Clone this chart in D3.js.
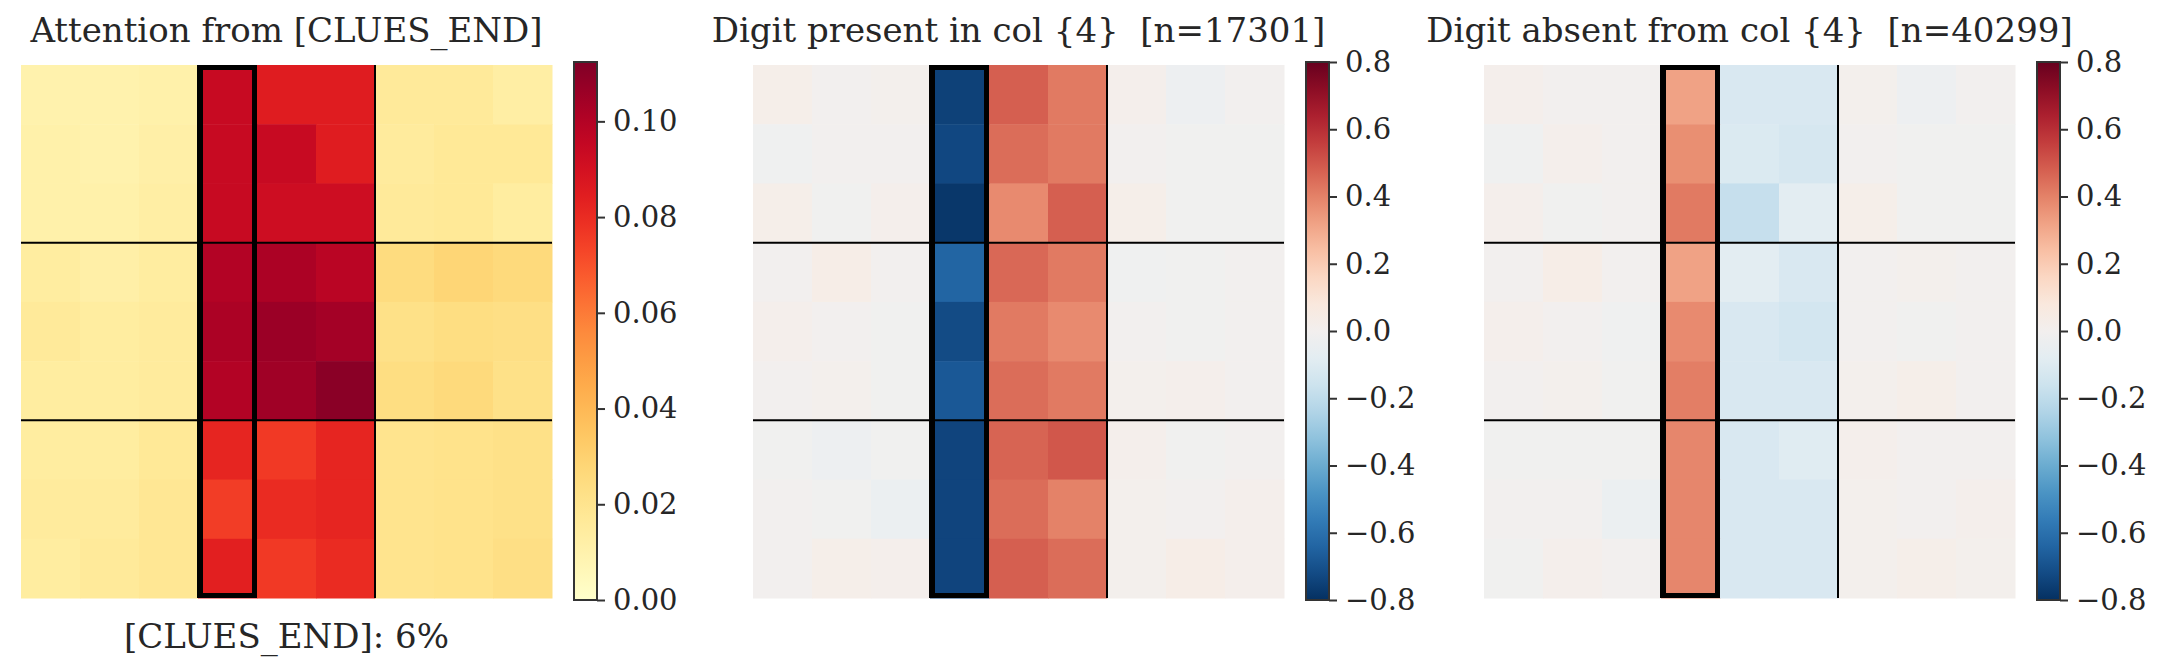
<!DOCTYPE html><html><head><meta charset="utf-8">
<script src="https://cdn.jsdelivr.net/npm/d3@7"></script>
<style>body{margin:0;background:#fff}text{font-family:"DejaVu Serif",serif;fill:#262626;white-space:pre}</style></head>
<body><svg id="c" width="2174" height="670"></svg>
<script>
const titles = ["Attention from [CLUES_END]", "Digit present in col {4}  [n=17301]", "Digit absent from col {4}  [n=40299]"];
const xlabels = ["[CLUES_END]: 6%", "", ""];
const attn = [
[.010,.010,.011,.094,.085,.085,.016,.016,.013],
[.011,.010,.012,.094,.094,.085,.015,.017,.017],
[.011,.011,.013,.094,.092,.092,.016,.017,.014],
[.014,.012,.014,.100,.102,.098,.025,.028,.026],
[.016,.014,.015,.102,.106,.104,.022,.024,.023],
[.014,.014,.015,.100,.105,.110,.024,.026,.022],
[.014,.014,.017,.082,.076,.082,.020,.021,.022],
[.015,.015,.018,.075,.080,.082,.020,.021,.022],
[.014,.016,.018,.084,.076,.080,.020,.021,.023]];
const present = [
[.03,0,.01,-.75,.48,.42,.02,-.03,0],
[-.02,0,0,-.73,.45,.42,0,-.01,-.01],
[.03,-.01,.02,-.78,.38,.48,.03,-.01,-.01],
[0,.04,0,-.64,.46,.42,-.02,-.01,0],
[.02,0,-.01,-.72,.42,.38,0,-.01,0],
[0,.01,-.01,-.68,.45,.42,.01,.02,0],
[-.01,-.03,-.01,-.74,.47,.50,.02,-.01,0],
[0,-.01,-.04,-.74,.45,.40,.01,0,.02],
[0,.03,.02,-.74,.48,.45,.01,.04,.02]];
const absent = [
[.02,0,0,.32,-.12,-.12,.01,-.03,0],
[-.02,.02,0,.37,-.11,-.13,0,-.01,-.01],
[.02,-.01,0,.42,-.18,-.08,.03,-.01,-.01],
[0,.04,0,.32,-.08,-.12,0,.01,0],
[.02,0,-.02,.38,-.12,-.14,0,-.01,0],
[0,.01,-.01,.41,-.12,-.12,.01,.03,0],
[-.01,-.01,-.01,.39,-.12,-.09,.02,0,0],
[0,0,-.04,.39,-.12,-.12,.01,0,.02],
[-.01,.02,0,.39,-.12,-.12,.01,.03,.01]];
const attnTicks = [0,0.02,0.04,0.06,0.08,0.10];
const divTicks = [-0.8,-0.6,-0.4,-0.2,0,0.2,0.4,0.6,0.8];
const highlightCol = 3;

const svg = d3.select("#c");
const panels = [
 {data:attn, x0:21, domain:[0,0.1124], interp:d3.interpolateYlOrRd, ticks:attnTicks, fmt:d3.format(".2f")},
 {data:present, x0:753, domain:[-0.8,0.8], interp:t=>d3.interpolateRdBu(1-t), ticks:divTicks, fmt:d=>d3.format(".1f")(d).replace("-","\u2212")},
 {data:absent, x0:1484, domain:[-0.8,0.8], interp:t=>d3.interpolateRdBu(1-t), ticks:divTicks, fmt:d=>d3.format(".1f")(d).replace("-","\u2212")}
];
const y0=65, size=533, W=531;
panels.forEach((p,i)=>{
  const g = svg.append("g");
  const x = d3.scaleBand().domain(d3.range(9)).range([p.x0,p.x0+W]);
  const y = d3.scaleBand().domain(d3.range(9)).range([y0,y0+size]);
  const color = d3.scaleSequential(p.interp).domain(p.domain);
  p.data.forEach((row,r)=>row.forEach((v,c)=>{
    g.append("rect").attr("x",x(c)).attr("y",y(r)).attr("width",x.bandwidth()+0.5).attr("height",y.bandwidth()+0.5).attr("fill",color(v));
  }));
  [3,6].forEach(k=>{
    g.append("line").attr("x1",p.x0).attr("x2",p.x0+W).attr("y1",y(k)).attr("y2",y(k)).attr("stroke","#000").attr("stroke-width",2);
    g.append("line").attr("y1",y0).attr("y2",y0+size).attr("x1",x(k)).attr("x2",x(k)).attr("stroke","#000").attr("stroke-width",2);
  });
  g.append("rect").attr("x",x(highlightCol)+2.5).attr("y",y0+2.5).attr("width",x.bandwidth()-5).attr("height",size-5)
   .attr("fill","none").attr("stroke","#000").attr("stroke-width",5);
  g.append("text").attr("x",p.x0+W/2).attr("y",42).attr("text-anchor","middle").attr("font-size",34).text(titles[i]);
  if(xlabels[i]) g.append("text").attr("x",p.x0+W/2).attr("y",648).attr("text-anchor","middle").attr("font-size",34).text(xlabels[i]);
  const cx = p.x0+W+22, cw=23, ct=62, cb=600;
  const cy = d3.scaleLinear().domain(p.domain).range([cb,ct]);
  const gid="grad"+i;
  const grad = svg.append("defs").append("linearGradient").attr("id",gid).attr("x1",0).attr("x2",0).attr("y1",1).attr("y2",0);
  d3.range(0,1.0001,0.05).forEach(t=>grad.append("stop").attr("offset",t).attr("stop-color",p.interp(t)));
  g.append("rect").attr("x",cx).attr("y",ct).attr("width",cw).attr("height",cb-ct).attr("fill",`url(#${gid})`).attr("stroke","#333").attr("stroke-width",2);
  const ax = g.append("g").attr("transform",`translate(${cx+cw},0)`).call(d3.axisRight(cy).tickValues(p.ticks).tickFormat(p.fmt).tickSize(8).tickPadding(8));
  ax.select(".domain").remove();
  ax.selectAll("line").attr("stroke","#333").attr("stroke-width",2);
  ax.selectAll("text").attr("font-size",29).attr("font-family","DejaVu Serif").attr("fill","#262626");
});
</script></body></html>
